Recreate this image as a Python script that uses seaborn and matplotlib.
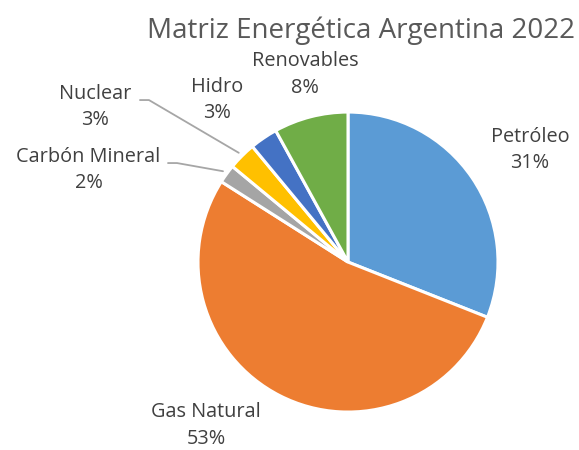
import matplotlib
matplotlib.use("Agg")
import matplotlib.pyplot as plt
import seaborn as sns
import numpy as np

categories = ["Petróleo", "Gas Natural", "Carbón Mineral", "Nuclear", "Hidro", "Renovables"]
values = [31, 53, 2, 3, 3, 8]
colors = ["#5B9BD5", "#ED7D31", "#A5A5A5", "#FFC000", "#4472C4", "#70AD47"]
title = "Matriz Energética Argentina 2022"

sns.set_theme(style="white")
plt.rcParams['font.family'] = ['Open Sans', 'DejaVu Sans']

fig = plt.figure(figsize=(5.79, 4.5), dpi=100)
ax = fig.add_axes([0, 0, 1, 1])

wedges, _ = ax.pie(values, colors=sns.color_palette(colors), startangle=90, counterclock=False,
                   radius=1.0, wedgeprops=dict(edgecolor='white', linewidth=2.2))
ax.set_aspect('equal', adjustable='box')
ax.set_xlim(-2.32, 1.54)
ax.set_ylim(-1.253, 1.747)
ax.axis('off')

# label anchor positions (text centres)
label_pos = {
    "Petróleo": (1.213, 0.747),
    "Gas Natural": (-0.947, -1.09),
    "Carbón Mineral": (-1.73, 0.613),
    "Nuclear": (-1.687, 1.033),
    "Hidro": (-0.873, 1.08),
    "Renovables": (-0.287, 1.25),
}
txtcol = "#404040"
for cat, v in zip(categories, values):
    x, y = label_pos[cat]
    ax.text(x, y, f"{cat}\n{v}%", ha='center', va='center', fontsize=14.3, color=txtcol,
            linespacing=1.45)

# leader lines for small slices (label side offsets relative to label centre)
leader_offsets = {"Nuclear": (0.30, 0.047), "Carbón Mineral": (0.53, 0.047)}
for cat, w in zip(categories, wedges):
    if cat in leader_offsets:
        ang = np.deg2rad((w.theta1 + w.theta2) / 2)
        ex, ey = 1.03 * np.cos(ang), 1.03 * np.sin(ang)
        lx, ly = label_pos[cat]
        ox, oy = leader_offsets[cat]
        sx, sy = lx + ox, ly + oy
        ax.plot([sx, sx + 0.06, ex], [sy, sy, ey], color="#A6A6A6", lw=1.3)

fig.text(361 / 579, 1 - 31 / 450, title, ha='center', va='center', fontsize=20, color="#595959")

fig.savefig("out.png", dpi=100, facecolor='white')
